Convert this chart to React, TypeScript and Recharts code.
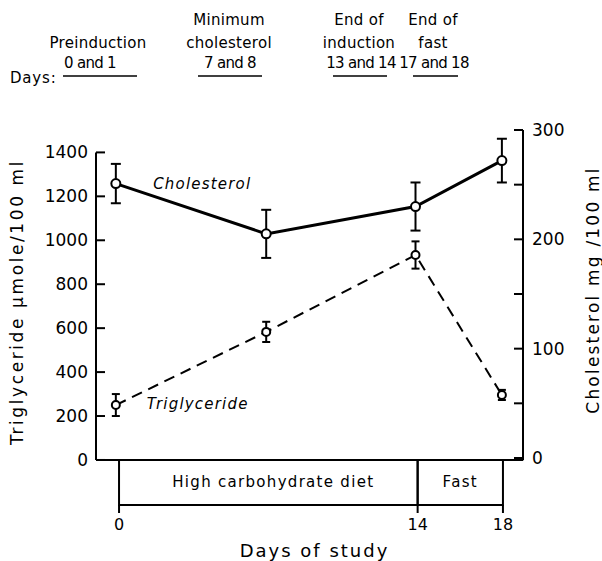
import React from "react";
import {
  ComposedChart,
  Line,
  XAxis,
  YAxis,
  ErrorBar,
  ReferenceLine,
  ReferenceArea,
  ReferenceDot,
} from "recharts";

const FONT = "'DejaVu Sans', 'Noto Sans', sans-serif";

// study days of each sampling point (as plotted)
const days = [-0.15, 6.9, 13.9, 17.95];
// cholesterol mg/100 ml (right axis)
const cholesterol = [251, 205, 230, 272];
const cholesterolErr = [18, 22, 22, 20];
// triglyceride umole/100 ml (left axis)
const triglyceride = [250, 583, 933, 296];
const triglycerideErr = [50, 46, 62, 23];

const dayTicks = [0, 14, 18];
const trigTicks = [0, 200, 400, 600, 800, 1000, 1200, 1400];
const cholTicks = [0, 50, 100, 150, 200, 250, 300];
const cholLabelled = [0, 100, 200, 300];

const periods = [
  { label: "High carbohydrate diet", from: 0, to: 14 },
  { label: "Fast", from: 14, to: 18 },
];

const headers = [
  { lines: ["Preinduction"], days: "0 and 1" },
  { lines: ["Minimum", "cholesterol"], days: "7 and 8" },
  { lines: ["End of", "induction"], days: "13 and 14" },
  { lines: ["End of", "fast"], days: "17 and 18" },
];

// header placement (pixels) - layout only
const headerLayout = [
  { cx: 98, daysCx: 90, lineFrom: 63, lineTo: 137 },
  { cx: 229, daysCx: 230, lineFrom: 198, lineTo: 262 },
  { cx: 359, daysCx: 361, lineFrom: 333, lineTo: 387 },
  { cx: 433, daysCx: 434, lineFrom: 413, lineTo: 458 },
];

const data = days.map((d, i) => ({
  day: d,
  chol: cholesterol[i],
  cholErr: cholesterolErr[i],
  trig: triglyceride[i],
  trigErr: triglycerideErr[i],
}));

const X_DOMAIN: [number, number] = [-1.08, 18.94];
const TRIG_DOMAIN: [number, number] = [-205, 1502];
const CHOL_DOMAIN: [number, number] = [-43, 300];

const txt = { fontFamily: FONT, fill: "#000" };

function Header() {
  return (
    <svg
      width={602}
      height={100}
      style={{ position: "absolute", left: 0, top: 0, pointerEvents: "none" }}
    >
      <text x={10} y={83} fontSize={15} letterSpacing={0.8} {...txt}>
        Days:
      </text>
      {headers.map((h, i) => {
        const l = headerLayout[i];
        return (
          <g key={i}>
            {h.lines.map((s, j) => (
              <text
                key={j}
                x={l.cx}
                y={48 - (h.lines.length - 1 - j) * 23}
                textAnchor="middle"
                fontSize={15}
                letterSpacing={0.3}
                {...txt}
              >
                {s}
              </text>
            ))}
            <text
              x={l.daysCx}
              y={68}
              textAnchor="middle"
              fontSize={15}
              letterSpacing={-0.7}
              {...txt}
            >
              {h.days}
            </text>
            <line x1={l.lineFrom} x2={l.lineTo} y1={76} y2={76} stroke="#000" strokeWidth={1.5} />
          </g>
        );
      })}
    </svg>
  );
}

export default function App() {
  return (
    <div
      style={{
        position: "fixed",
        left: 0,
        top: 0,
        width: 602,
        height: 561,
        background: "#fff",
      }}
    >
      <ComposedChart
        width={602}
        height={561}
        data={data}
        margin={{ top: 130, right: 0, bottom: 6, left: 0 }}
      >
        <XAxis
          dataKey="day"
          type="number"
          domain={X_DOMAIN}
          allowDataOverflow
          ticks={dayTicks}
          axisLine={false}
          tickLine={{ stroke: "#000", strokeWidth: 2 }}
          tickSize={8}
          tickMargin={6}
          height={50}
          tick={{ ...txt, fontSize: 16 }}
          label={(p: any) => (
            <text
              x={p.viewBox.x + p.viewBox.width / 2 + 5}
              y={p.viewBox.y + 52}
              textAnchor="middle"
              fontSize={18}
              letterSpacing={2}
              {...txt}
            >
              Days of study
            </text>
          )}
        />
        <YAxis
          yAxisId="left"
          orientation="left"
          type="number"
          domain={TRIG_DOMAIN}
          allowDataOverflow
          ticks={trigTicks}
          interval={0}
          width={96}
          axisLine={false}
          tickLine={{ stroke: "#000", strokeWidth: 2 }}
          tickSize={-9}
          tickMargin={17}
          tick={{ ...txt, fontSize: 17 }}
          label={(p: any) => (
            <text
              transform={`translate(${p.viewBox.x + 23}, ${p.viewBox.y + 172}) rotate(-90)`}
              textAnchor="middle"
              fontSize={17}
              letterSpacing={2.6}
              {...txt}
            >
              Triglyceride μmole/100 ml
            </text>
          )}
        />
        <YAxis
          yAxisId="right"
          orientation="right"
          type="number"
          domain={CHOL_DOMAIN}
          allowDataOverflow
          ticks={cholTicks}
          interval={0}
          width={79}
          axisLine={false}
          tickLine={{ stroke: "#000", strokeWidth: 2 }}
          tickSize={-9}
          tickMargin={18}
          tickFormatter={(v: number) => (cholLabelled.includes(v) ? String(v) : "")}
          tick={{ ...txt, fontSize: 17 }}
          label={(p: any) => (
            <text
              transform={`translate(${p.viewBox.x + 76}, ${p.viewBox.y + 160}) rotate(-90)`}
              textAnchor="middle"
              fontSize={17}
              letterSpacing={2.2}
              {...txt}
            >
              Cholesterol mg /100 ml
            </text>
          )}
        />

        {/* axis frame */}
        <ReferenceLine
          yAxisId="left"
          ifOverflow="visible"
          segment={[
            { x: X_DOMAIN[0], y: 0 },
            { x: X_DOMAIN[0], y: 1400 },
          ]}
          stroke="#000"
          strokeWidth={2}
        />
        <ReferenceLine
          yAxisId="right"
          ifOverflow="visible"
          segment={[
            { x: X_DOMAIN[1], y: -2 },
            { x: X_DOMAIN[1], y: 300 },
          ]}
          stroke="#000"
          strokeWidth={2}
        />
        <ReferenceLine yAxisId="left" y={0} ifOverflow="visible" stroke="#000" strokeWidth={2} />

        {/* period boxes under the axis */}
        {periods.map((p) => (
          <ReferenceArea
            key={p.label}
            yAxisId="left"
            x1={p.from}
            x2={p.to}
            y1={TRIG_DOMAIN[0]}
            y2={0}
            ifOverflow="visible"
            fill="none"
            fillOpacity={0}
            stroke="#000"
            strokeWidth={2}
            label={(lp: any) => (
              <text
                x={lp.viewBox.x + lp.viewBox.width / 2 + (p.to - p.from > 5 ? 5 : 0)}
                y={lp.viewBox.y + lp.viewBox.height / 2 + 5}
                textAnchor="middle"
                fontSize={15}
                letterSpacing={1.3}
                {...txt}
              >
                {p.label}
              </text>
            )}
          />
        ))}

        <Line
          yAxisId="right"
          dataKey="chol"
          type="linear"
          stroke="#000"
          strokeWidth={3}
          dot={{ r: 4.5, fill: "#fff", stroke: "#000", strokeWidth: 2 }}
          activeDot={false}
          isAnimationActive={false}
        >
          <ErrorBar
            dataKey="cholErr"
            direction="y"
            width={5}
            stroke="#000"
            strokeWidth={2}
            isAnimationActive={false}
          />
        </Line>
        <Line
          yAxisId="left"
          dataKey="trig"
          type="linear"
          stroke="#000"
          strokeWidth={2}
          strokeDasharray="11 7"
          dot={{ r: 4, fill: "#fff", stroke: "#000", strokeWidth: 2, strokeDasharray: "none" }}
          activeDot={false}
          isAnimationActive={false}
        >
          <ErrorBar
            dataKey="trigErr"
            direction="y"
            width={4}
            stroke="#000"
            strokeWidth={2}
            strokeDasharray="none"
            isAnimationActive={false}
          />
        </Line>

        {/* series captions */}
        <ReferenceDot
          yAxisId="right"
          x={1.6}
          y={251}
          r={1}
          fill="none"
          stroke="none"
          label={(lp: any) => (
            <text
              x={lp.viewBox.x + 1}
              y={lp.viewBox.y + 6}
              fontSize={15}
              fontStyle="italic"
              letterSpacing={1.2}
              {...txt}
            >
              Cholesterol
            </text>
          )}
        />
        <ReferenceDot
          yAxisId="left"
          x={1.3}
          y={255}
          r={1}
          fill="none"
          stroke="none"
          label={(lp: any) => (
            <text
              x={lp.viewBox.x + 1}
              y={lp.viewBox.y + 6}
              fontSize={15}
              fontStyle="italic"
              letterSpacing={1.2}
              {...txt}
            >
              Triglyceride
            </text>
          )}
        />
      </ComposedChart>
      <Header />
    </div>
  );
}
